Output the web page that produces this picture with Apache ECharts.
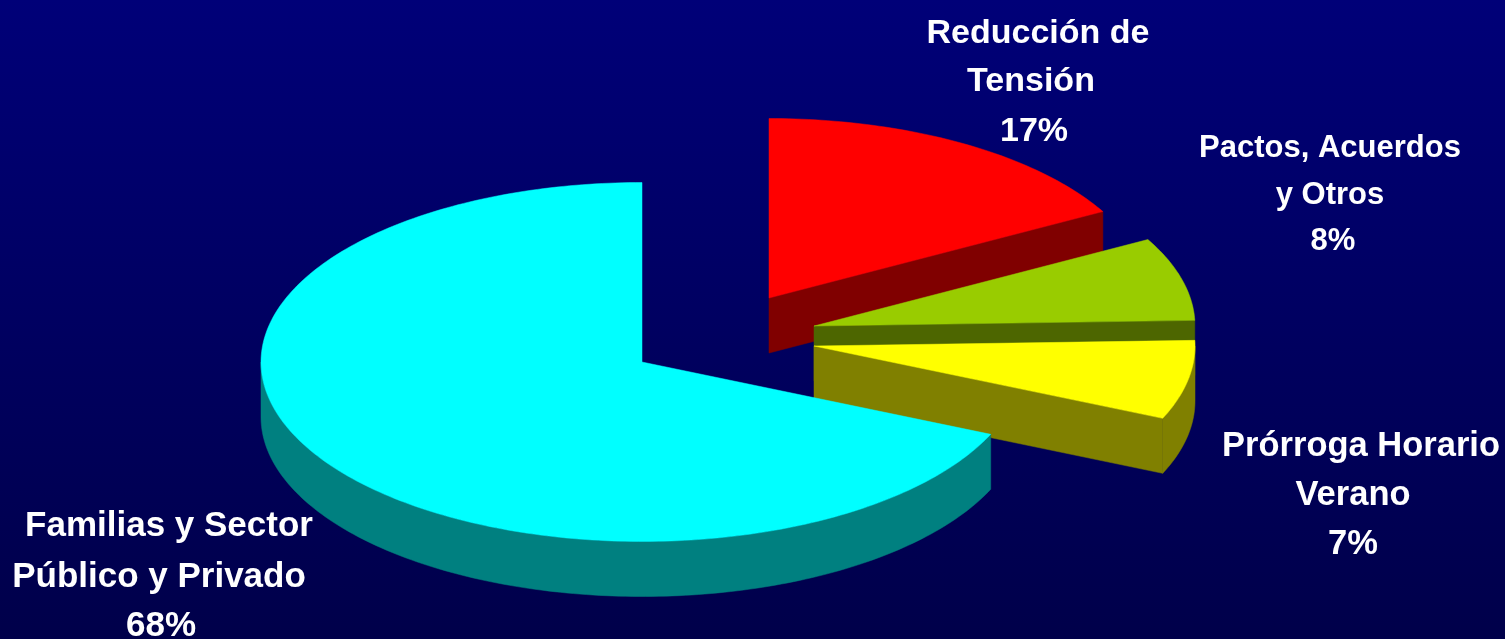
<!DOCTYPE html>
<html>
<head>
<meta charset="utf-8">
<style>html,body{margin:0;padding:0;background:#000060}#c{width:1505px;height:639px}</style>
<script src="https://cdn.jsdelivr.net/npm/echarts@6/dist/echarts.min.js"></script>
</head>
<body>
<div id="c"></div>
<script>
const categories = ['Reducción de|Tensión', 'Pactos, Acuerdos|y Otros', 'Prórroga Horario|Verano', 'Familias y Sector|Público y Privado'];
const values = [17, 7.5, 7.1, 68.4];

// Drawing layout only (no data): exploded slice apexes, ellipse radii, rim depth, label positions.
const apex = [[769, 298], [814, 326], [814, 346], [642, 362]];
const topColors = ['#ff0000', '#99cc00', '#ffff00', '#00ffff'];
const sideColors = ['#800000', '#4d6600', '#808000', '#008080'];
const RX = 381, RY = 179.5, DEPTH = 55;
const labelX = [[1038, 1031, 1034], [1330, 1330, 1333], [1361, 1353, 1353], [169, 159, 161]];
const labelY = [[34, 82, 132], [148, 195, 241], [446, 495, 544], [526, 577, 626]];
const labelSize = [34, 31, 34.5, 35];

const total = values.reduce((a, b) => a + b, 0);
const polar = (c, deg, dy) => {
  const t = deg * Math.PI / 180;
  return [c[0] + RX * Math.sin(t), c[1] - RY * Math.cos(t) + (dy || 0)];
};
function arcPts(c, from, to, dy) {
  const pts = [];
  const n = Math.max(2, Math.ceil(Math.abs(to - from)));
  for (let i = 0; i <= n; i++) pts.push(polar(c, from + (to - from) * i / n, dy));
  return pts;
}
function renderItem(params, api) {
  const i = params.dataIndex;
  let start = 0;
  for (let k = 0; k < i; k++) start += values[k];
  const a0 = start / total * 360;
  const a1 = a0 + api.value(0) / total * 360;
  const c = apex[i];
  const children = [];
  const poly = (points, fill) => children.push({
    type: 'polygon', shape: { points }, style: { fill, stroke: fill, lineWidth: 0.5 }
  });
  const r0 = Math.max(a0, 90), r1 = Math.min(a1, 270);
  if (r1 > r0) {
    const top = arcPts(c, r0, r1, 0), bot = arcPts(c, r0, r1, DEPTH).reverse();
    poly(top.concat(bot), sideColors[i]);
  }
  if (a1 < 180) {
    const e = polar(c, a1, 0);
    poly([c, e, [e[0], e[1] + DEPTH], [c[0], c[1] + DEPTH]], sideColors[i]);
  }
  poly([c].concat(arcPts(c, a0, a1, 0)), topColors[i]);
  const lines = categories[i].split('|').concat(Math.round(api.value(0)) + '%');
  lines.forEach((t, j) => children.push({
    type: 'text', z2: 10,
    style: {
      text: t, x: labelX[i][j], y: labelY[i][j], align: 'center', verticalAlign: 'middle',
      fill: '#ffffff', font: 'bold ' + labelSize[i] + 'px "Liberation Sans", Arial, sans-serif'
    }
  }));
  return { type: 'group', children };
}
const chart = echarts.init(document.getElementById('c'), null, { renderer: 'canvas' });
chart.setOption({
  animation: false,
  backgroundColor: {
    type: 'linear', x: 0, y: 0, x2: 0, y2: 1,
    colorStops: [{ offset: 0, color: '#000078' }, { offset: 1, color: '#00004a' }]
  },
  series: [{
    type: 'custom', coordinateSystem: 'none', silent: true,
    renderItem,
    data: values.map(v => [v])
  }]
});
</script>
</body>
</html>
